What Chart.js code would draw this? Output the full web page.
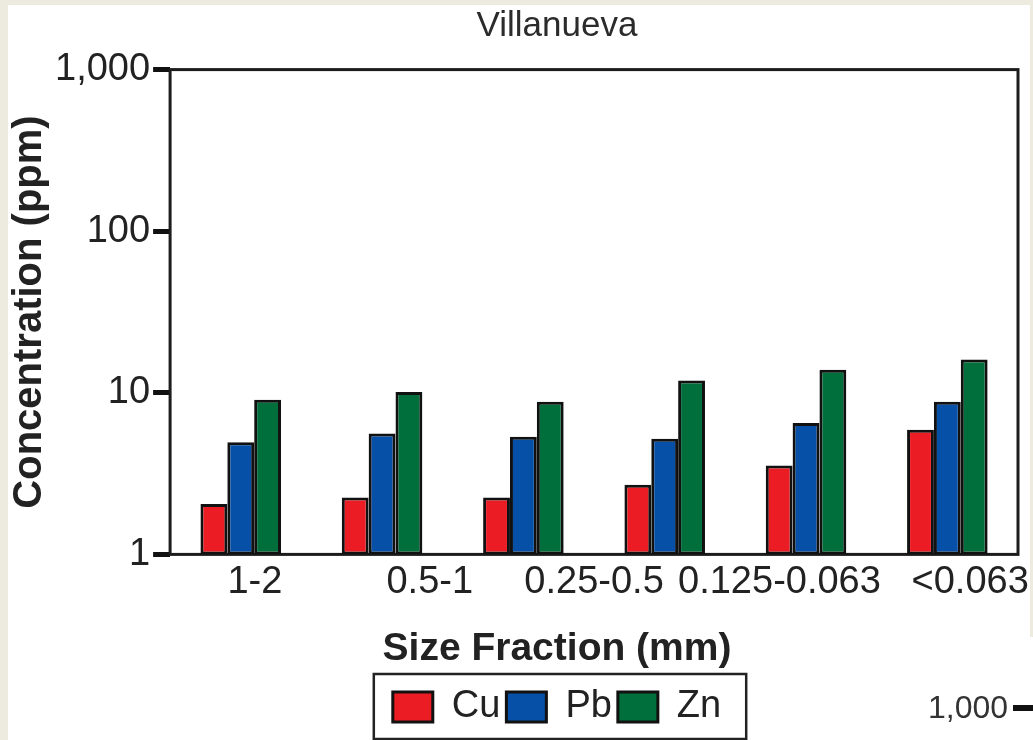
<!DOCTYPE html>
<html>
<head>
 <title>Villanueva</title>
 <script src="https://cdn.jsdelivr.net/npm/chart.js"></script>
 <style>
  body { margin: 0; background: #fff; overflow: hidden; font-family: "Liberation Sans", Arial, sans-serif; }
  #page { position: relative; width: 1033px; height: 740px; overflow: hidden; background: #fff; }
  .edge { position: absolute; background: #edeae0; z-index: 2; }
  #chart-box { position: absolute; left: 8px; top: 5px; width: 1098px; height: 735px; }
  #next-label { position: absolute; left: 928px; top: 691px; font-size: 32px; line-height: 32px; color: #333; z-index: 3; }
  #next-dash { position: absolute; left: 1013px; top: 705px; width: 20px; height: 6px; background: #111; z-index: 3; }
 </style>
</head>
<body>
 <div id="page">
  <div id="chart-box"><canvas id="sizeChart"></canvas></div>
  <div class="edge" style="left:0;top:0;width:8px;height:740px"></div>
  <div class="edge" style="left:0;top:0;width:1033px;height:5px"></div>
  <div class="edge" style="left:1030px;top:0;width:3px;height:637px"></div>
  <div id="next-label">1,000</div>
  <div id="next-dash"></div>
 </div>

 <script>
  // Concentrations (ppm) per size fraction, coarse to fine
  const fractionGroups = [1, 2, 3, 4, 5, 6];
  const sizeLabels = ['1-2', '0.5-1', '0.25-0.5', '0.125-0.063', '<0.063'];
  const cuValues = [2.05, 2.25, 2.25, 2.7, 3.55, 5.9];
  const pbValues = [4.95, 5.6, 5.35, 5.2, 6.5, 8.8];
  const znValues = [9.05, 10.1, 8.8, 11.9, 13.9, 16.1];
  const yTicks = [1, 10, 100, 1000];

  // leading spaces in front of each size label
  const labelIndent = [0, 1, 0, 3, 7];

  const FONT = '"Liberation Sans", Arial, sans-serif';
  const INK = '#222';

  // black frame around the plotting area
  const plotFrame = {
   id: 'plotFrame',
   beforeDatasetsDraw(chart) {
    const a = chart.chartArea;
    const ctx = chart.ctx;
    ctx.save();
    ctx.strokeStyle = '#1c1c1c';
    ctx.lineWidth = 3;
    ctx.strokeRect(a.left, a.top, a.right - a.left, a.bottom - a.top);
    ctx.restore();
   }
  };

  // box drawn round the legend entries
  const legendFrame = {
   id: 'legendFrame',
   afterDraw(chart) {
    const boxes = chart.legend.legendHitBoxes;
    if (!boxes || !boxes.length) return;
    const left = Math.min(...boxes.map(b => b.left)) - 19;
    const right = Math.max(...boxes.map(b => b.left + b.width)) + 25;
    const top = boxes[0].top - 14;
    const bottom = boxes[0].top + boxes[0].height + 13;
    const ctx = chart.ctx;
    ctx.save();
    ctx.strokeStyle = '#222';
    ctx.lineWidth = 2.5;
    ctx.strokeRect(left, top, right - left, bottom - top);
    ctx.restore();
   }
  };

  const barStyle = { borderColor: '#111', borderWidth: 3, borderSkipped: false };

  const ctx = document.getElementById('sizeChart').getContext('2d');
  const chart = new Chart(ctx, {
   type: 'bar',
   data: {
    labels: fractionGroups,
    datasets: [
     { label: 'Cu', data: cuValues, backgroundColor: '#ec1c24', ...barStyle },
     { label: 'Pb', data: pbValues, backgroundColor: '#0650a8', ...barStyle },
     { label: 'Zn', data: znValues, backgroundColor: '#006f3b', ...barStyle }
    ]
   },
   options: {
    responsive: true,
    maintainAspectRatio: false,
    animation: false,
    datasets: { bar: { categoryPercentage: 0.57, barPercentage: 1 } },
    layout: { padding: { bottom: 4 } },
    scales: {
     x: { display: false },
     x2: {
      type: 'category',
      labels: sizeLabels,
      position: 'bottom',
      offset: true,
      grid: { display: false, drawTicks: false },
      border: { display: false },
      ticks: {
       autoSkip: false, maxRotation: 0, minRotation: 0, padding: 5,
       color: INK, font: { family: FONT, size: 38 },
       callback: (v, i) => ' '.repeat(labelIndent[i]) + sizeLabels[i]
      }
     },
     y: {
      type: 'logarithmic',
      min: 1,
      max: 1000,
      afterBuildTicks(scale) { scale.ticks = yTicks.map(v => ({ value: v })); },
      grid: { drawOnChartArea: false, tickLength: 17, tickWidth: 5, tickColor: '#111' },
      border: { display: false },
      ticks: {
       padding: 3, color: INK, font: { family: FONT, size: 38 },
       callback: v => Number(v).toLocaleString('en-US')
      },
      title: {
       display: true, text: 'Concentration (ppm)', color: INK,
       font: { family: FONT, size: 40, weight: 'bold', lineHeight: 1 },
       padding: { top: 2, bottom: 2 }
      }
     },
     // keeps the empty margin on the right of the plot
     yPad: {
      position: 'right',
      grid: { display: false, drawTicks: false },
      border: { display: false },
      ticks: { display: false },
      afterFit(scale) { scale.width = 88; }
     }
    },
    plugins: {
     title: {
      display: true, text: 'Villanueva', color: '#2b2b2b',
      font: { family: FONT, size: 35, weight: 'normal' },
      padding: { top: 0, bottom: 22.6 }
     },
     subtitle: {
      display: true, position: 'bottom', weight: 500,
      text: 'Size Fraction (mm)', color: INK,
      font: { family: FONT, size: 39, weight: 'bold' },
      padding: { top: 16, bottom: 9.2 }
     },
     legend: {
      position: 'bottom',
      labels: {
       boxWidth: 40, boxHeight: 30, padding: 6,
       color: INK, font: { family: FONT, size: 38 }
      }
     },
     tooltip: { enabled: false }
    }
   },
   plugins: [plotFrame, legendFrame]
  });
 </script>
</body>
</html>
